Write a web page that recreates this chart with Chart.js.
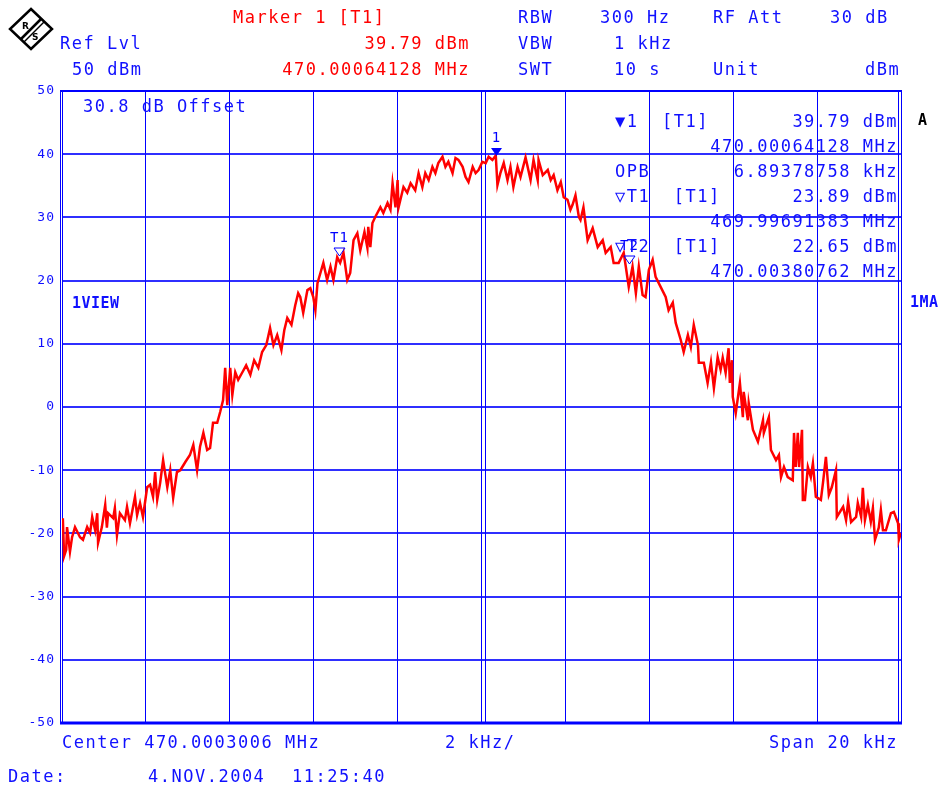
<!DOCTYPE html>
<html lang="en">
<head>
    <meta charset="UTF-8">
    <title>Spectrum</title>
    <script src="https://cdn.jsdelivr.net/npm/chart.js"></script>
    <style>
        html, body { margin: 0; padding: 0; background: #fff; }
        #wrap { position: relative; width: 943px; height: 789px; overflow: hidden; }
        #spectrum { position: absolute; left: 0; top: 0; }
        .t {
            position: absolute;
            font-family: 'DejaVu Sans Mono', monospace;
            font-size: 17px;
            letter-spacing: 1.5px;
            line-height: 20px;
            color: #1010ff;
            white-space: pre;
        }
        .r { color: #ff0000; }
        .b { font-weight: bold; font-size: 15px; letter-spacing: 0.5px; }
    </style>
</head>
<body>
<div id="wrap">
    <canvas id="spectrum" width="943" height="789"></canvas>

    <!-- logo -->
    <svg style="position:absolute;left:8px;top:7px" width="46" height="44" viewBox="0 0 46 44">
        <polygon points="23,2 44,22 23,42 2,22" fill="#fff" stroke="#000" stroke-width="2.5"/>
        <line x1="13" y1="32" x2="33" y2="12" stroke="#000" stroke-width="2.5"/>
        <line x1="16" y1="35" x2="36" y2="15" stroke="#000" stroke-width="1.5"/>
        <text x="14" y="22" font-size="9" font-family="DejaVu Sans" font-weight="bold">R</text>
        <text x="24" y="33" font-size="9" font-family="DejaVu Sans" font-weight="bold">S</text>
    </svg>

    <!-- header -->
    <div class="t r" style="left:233px;top:7px">Marker 1 [T1]</div>
    <div class="t" style="left:60px;top:33px">Ref Lvl</div>
    <div class="t" style="left:72px;top:59px">50 dBm</div>
    <div class="t r" style="right:473px;top:33px">39.79 dBm</div>
    <div class="t r" style="right:473px;top:59px">470.00064128 MHz</div>
    <div class="t" style="left:518px;top:7px">RBW</div>
    <div class="t" style="left:600px;top:7px">300 Hz</div>
    <div class="t" style="left:713px;top:7px">RF Att</div>
    <div class="t" style="left:830px;top:7px">30 dB</div>
    <div class="t" style="left:518px;top:33px">VBW</div>
    <div class="t" style="left:614px;top:33px">1 kHz</div>
    <div class="t" style="left:518px;top:59px">SWT</div>
    <div class="t" style="left:614px;top:59px">10 s</div>
    <div class="t" style="left:713px;top:59px">Unit</div>
    <div class="t" style="left:865px;top:59px">dBm</div>

    <!-- inside plot -->
    <div class="t" style="left:83px;top:96px">30.8 dB Offset</div>
    <div class="t b" style="left:72px;top:293px">1VIEW</div>
    <div class="t b" style="left:910px;top:292px">1MA</div>
    <div class="t b" style="left:918px;top:110px;color:#000">A</div>

    <!-- marker table -->
    <div class="t" style="left:615px;top:111px">▼1  [T1]</div>
    <div class="t" style="right:45px;top:111px">39.79 dBm</div>
    <div class="t" style="right:45px;top:136px">470.00064128 MHz</div>
    <div class="t" style="left:615px;top:161px">OPB</div>
    <div class="t" style="right:45px;top:161px">6.89378758 kHz</div>
    <div class="t" style="left:615px;top:186px">▽T1  [T1]</div>
    <div class="t" style="right:45px;top:186px">23.89 dBm</div>
    <div class="t" style="right:45px;top:211px">469.99691383 MHz</div>
    <div class="t" style="left:615px;top:236px">▽T2  [T1]</div>
    <div class="t" style="right:45px;top:236px">22.65 dBm</div>
    <div class="t" style="right:45px;top:261px">470.00380762 MHz</div>

    <!-- footer -->
    <div class="t" style="left:62px;top:732px">Center 470.0003006 MHz</div>
    <div class="t" style="left:445px;top:732px">2 kHz/</div>
    <div class="t" style="right:45px;top:732px">Span 20 kHz</div>
    <div class="t" style="left:8px;top:766px">Date:</div>
    <div class="t" style="left:148px;top:766px">4.NOV.2004</div>
    <div class="t" style="left:292px;top:766px">11:25:40</div>
</div>

<script>
// offset from center 470.0003006 MHz, in kHz
const freqOffsetKHz = [
    -10.00, -9.98, -9.95, -9.90, -9.88, -9.81, -9.76, -9.69, -9.57, -9.50,
    -9.40, -9.33, -9.28, -9.21, -9.16, -9.14, -9.05, -8.97, -8.93, -8.90,
    -8.78, -8.74, -8.69, -8.62, -8.50, -8.45, -8.38, -8.26, -8.21, -8.14,
    -8.07, -7.97, -7.90, -7.83, -7.78, -7.73, -7.66, -7.59, -7.49, -7.42,
    -7.35, -7.26, -7.18, -7.06, -6.95, -6.87, -6.78, -6.71, -6.63, -6.54,
    -6.47, -6.40, -6.30, -6.23, -6.16, -6.11, -6.06, -5.99, -5.94, -5.87,
    -5.80, -5.70, -5.61, -5.51, -5.42, -5.32, -5.23, -5.13, -5.04, -4.96,
    -4.87, -4.77, -4.70, -4.63, -4.53, -4.44, -4.37, -4.32, -4.25, -4.15,
    -4.08, -4.01, -3.96, -3.91, -3.84, -3.77, -3.68, -3.60, -3.53, -3.44,
    -3.37, -3.29, -3.20, -3.13, -3.05, -2.96, -2.89, -2.79, -2.72, -2.70,
    -2.65, -2.60, -2.53, -2.41, -2.34, -2.24, -2.17, -2.12, -2.05, -2.00,
    -1.98, -1.86, -1.77, -1.69, -1.58, -1.50, -1.41, -1.34, -1.26, -1.17,
    -1.10, -1.03, -0.93, -0.86, -0.79, -0.69, -0.62, -0.55, -0.45, -0.38,
    -0.31, -0.21, -0.14, -0.07, 0.02, 0.10, 0.17, 0.26, 0.34, 0.38,
    0.45, 0.53, 0.62, 0.69, 0.76, 0.86, 0.93, 1.05, 1.17, 1.24,
    1.34, 1.36, 1.46, 1.58, 1.65, 1.72, 1.81, 1.89, 1.96, 2.05,
    2.12, 2.17, 2.24, 2.32, 2.36, 2.43, 2.53, 2.65, 2.77, 2.89,
    2.96, 3.08, 3.15, 3.27, 3.39, 3.44, 3.51, 3.60, 3.68, 3.75,
    3.84, 3.91, 3.99, 4.08, 4.15, 4.27, 4.39, 4.46, 4.56, 4.63,
    4.75, 4.82, 4.92, 4.99, 5.06, 5.16, 5.18, 5.30, 5.39, 5.47,
    5.54, 5.63, 5.70, 5.75, 5.82, 5.89, 5.92, 5.97, 5.99, 6.06,
    6.16, 6.23, 6.25, 6.35, 6.37, 6.47, 6.59, 6.71, 6.73, 6.85,
    6.90, 7.02, 7.09, 7.14, 7.21, 7.30, 7.42, 7.45, 7.49, 7.54,
    7.57, 7.64, 7.66, 7.71, 7.78, 7.85, 7.90, 7.97, 8.09, 8.14,
    8.21, 8.28, 8.35, 8.45, 8.47, 8.62, 8.69, 8.74, 8.81, 8.93,
    8.97, 9.05, 9.09, 9.14, 9.21, 9.28, 9.33, 9.38, 9.47, 9.52,
    9.57, 9.64, 9.76, 9.83, 9.93, 9.95, 10.00
];

// trace level, dBm
const levelDbm = [
    -19.5, -17.6, -23.6, -22.6, -19.0, -22.9, -20.6, -19.0, -20.6, -21.0,
    -19.0, -19.9, -17.4, -19.5, -16.8, -21.5, -19.0, -15.5, -19.1, -16.8,
    -17.6, -16.0, -20.3, -16.8, -17.9, -15.8, -18.4, -14.2, -17.1, -15.2,
    -17.4, -12.7, -12.3, -14.2, -10.3, -14.7, -12.0, -8.4, -12.7, -10.0,
    -14.4, -10.3, -10.0, -8.7, -7.6, -6.0, -10.0, -6.3, -4.1, -6.8,
    -6.5, -2.5, -2.5, -0.8, 1.1, 6.2, 0.3, 6.2, 1.9, 5.5,
    4.3, 5.5, 6.6, 5.1, 7.4, 6.2, 8.7, 9.8, 12.5, 9.8,
    11.4, 9.0, 12.2, 14.1, 13.0, 16.1, 18.0, 17.4, 14.9, 18.5,
    18.8, 17.4, 15.3, 19.6, 21.2, 22.8, 20.1, 22.2, 20.1, 23.7,
    22.8, 24.4, 20.1, 21.2, 26.4, 27.5, 24.8, 27.7, 25.2, 28.5,
    25.3, 29.1, 30.1, 31.6, 30.7, 32.3, 31.2, 35.4, 31.6, 35.9,
    31.5, 34.8, 33.9, 35.4, 34.3, 37.0, 34.8, 37.0, 35.9, 38.0,
    37.0, 38.6, 39.6, 38.0, 38.8, 37.0, 39.4, 39.1, 38.0, 36.4,
    35.6, 38.0, 37.0, 37.5, 38.8, 38.6, 39.6, 39.1, 39.8, 35.1,
    37.0, 38.6, 35.9, 38.0, 34.8, 38.0, 36.4, 39.5, 35.9, 39.1,
    35.9, 39.1, 36.7, 37.5, 35.9, 36.7, 34.3, 35.6, 33.2, 32.8,
    31.2, 32.0, 33.5, 30.1, 29.6, 31.6, 26.4, 28.3, 25.3, 26.4,
    24.4, 25.3, 22.8, 22.8, 24.4, 22.2, 19.0, 22.2, 18.0, 22.2,
    17.7, 17.4, 21.7, 23.3, 20.6, 19.0, 17.4, 15.3, 16.5, 13.3,
    10.6, 8.7, 11.4, 9.5, 13.0, 9.8, 7.0, 7.0, 3.8, 7.1,
    3.0, 7.9, 5.9, 7.8, 5.4, 9.3, 3.8, 7.4, 1.6, -1.0,
    3.8, -1.6, 2.4, -2.1, 0.6, -3.6, -5.5, -2.1, -4.1, -1.6,
    -6.8, -8.4, -7.6, -11.1, -9.5, -11.1, -11.6, -4.1, -9.5, -4.1,
    -9.5, -3.6, -14.7, -14.7, -9.5, -11.1, -8.9, -14.2, -14.7, -12.0,
    -7.9, -13.9, -12.7, -10.0, -17.4, -15.8, -17.9, -15.0, -18.2, -17.4,
    -15.2, -17.4, -12.8, -17.9, -15.5, -18.2, -16.0, -21.0, -19.1, -16.3,
    -19.5, -19.5, -16.8, -16.6, -18.4, -21.0, -19.9
];

const levelTicks = [50, 40, 30, 20, 10, 0, -10, -20, -30, -40, -50];
const freqTicks = [-10, -8, -6, -4, -2, 0, 2, 4, 6, 8, 10];

// markers: 1 (peak), T1 and T2 (OPB edges)
const markerNames = ['1', 'T1', 'T2'];
const markerFreqKHz = [0.34, -3.39, 3.51];
const markerLevel = [39.79, 23.89, 22.65];
const markerFilled = [true, false, false];

const blue = '#0000ff';

// frame + marker triangles
const spectrumDeco = {
    id: 'spectrumDeco',
    beforeDraw(chart) {
        chart.ctx.letterSpacing = '1px';
    },
    beforeDatasetsDraw(chart) {
        const { ctx, chartArea: a, scales: { x } } = chart;
        ctx.save();
        ctx.strokeStyle = blue;
        ctx.lineWidth = 1;
        ctx.beginPath();
        // double line on left / right / centre
        ctx.moveTo(a.left - 1.5, a.top); ctx.lineTo(a.left - 1.5, a.bottom);
        ctx.moveTo(a.left + 0.5, a.top); ctx.lineTo(a.left + 0.5, a.bottom);
        ctx.moveTo(a.right - 2.5, a.top); ctx.lineTo(a.right - 2.5, a.bottom);
        ctx.moveTo(a.right + 0.5, a.top); ctx.lineTo(a.right + 0.5, a.bottom);
        const cx = Math.round(x.getPixelForValue(0)) + 3.5;
        ctx.moveTo(cx, a.top); ctx.lineTo(cx, a.bottom);
        ctx.stroke();
        ctx.lineWidth = 2;
        ctx.beginPath();
        ctx.moveTo(a.left - 2, a.top); ctx.lineTo(a.right + 1, a.top);
        ctx.stroke();
        ctx.lineWidth = 3;
        ctx.beginPath();
        ctx.moveTo(a.left - 2, a.bottom); ctx.lineTo(a.right + 1, a.bottom);
        ctx.stroke();
        ctx.restore();
    },
    afterDatasetsDraw(chart) {
        const { ctx, scales: { x, y } } = chart;
        ctx.save();
        ctx.strokeStyle = blue;
        ctx.fillStyle = blue;
        ctx.lineWidth = 1;
        ctx.font = '14px "DejaVu Sans Mono"';
        ctx.textAlign = 'center';
        ctx.textBaseline = 'middle';
        markerNames.forEach((name, i) => {
            const px = Math.round(x.getPixelForValue(markerFreqKHz[i])) + 0.5;
            const py = Math.round(y.getPixelForValue(markerLevel[i]));
            ctx.beginPath();
            ctx.moveTo(px, py);
            ctx.lineTo(px - 5.5, py - 8);
            ctx.lineTo(px + 5.5, py - 8);
            ctx.closePath();
            if (markerFilled[i]) ctx.fill(); else ctx.stroke();
            ctx.fillText(name, px, py - 18);
        });
        ctx.restore();
    }
};

new Chart(document.getElementById('spectrum'), {
    type: 'line',
    data: {
        datasets: [{
            label: 'Trace 1',
            data: freqOffsetKHz.map((f, i) => ({ x: f, y: levelDbm[i] })),
            borderColor: '#ff0000',
            borderWidth: 2.5,
            pointRadius: 0,
            tension: 0,
            fill: false
        }]
    },
    options: {
        responsive: false,
        animation: false,
        devicePixelRatio: 1,
        layout: { padding: { top: 91, right: 42, left: 0, bottom: 0 } },
        plugins: { legend: { display: false }, tooltip: { enabled: false } },
        scales: {
            x: {
                type: 'linear',
                min: -10,
                max: 10,
                afterBuildTicks: s => { s.ticks = freqTicks.map(v => ({ value: v })); },
                afterFit: s => { s.height = 66; },
                ticks: { display: false },
                border: { display: false },
                grid: { color: blue, lineWidth: 1, drawTicks: false }
            },
            y: {
                min: -50,
                max: 50,
                afterBuildTicks: s => { s.ticks = levelTicks.map(v => ({ value: v })); },
                afterFit: s => { s.width = 62; },
                ticks: {
                    color: '#1010ff',
                    padding: 7,
                    font: { family: 'DejaVu Sans Mono', size: 13 },
                    callback: v => String(v)
                },
                border: { display: false },
                grid: { color: 'rgba(10,10,255,0.85)', lineWidth: 2, drawTicks: false }
            }
        }
    },
    plugins: [spectrumDeco]
});
</script>
</body>
</html>
